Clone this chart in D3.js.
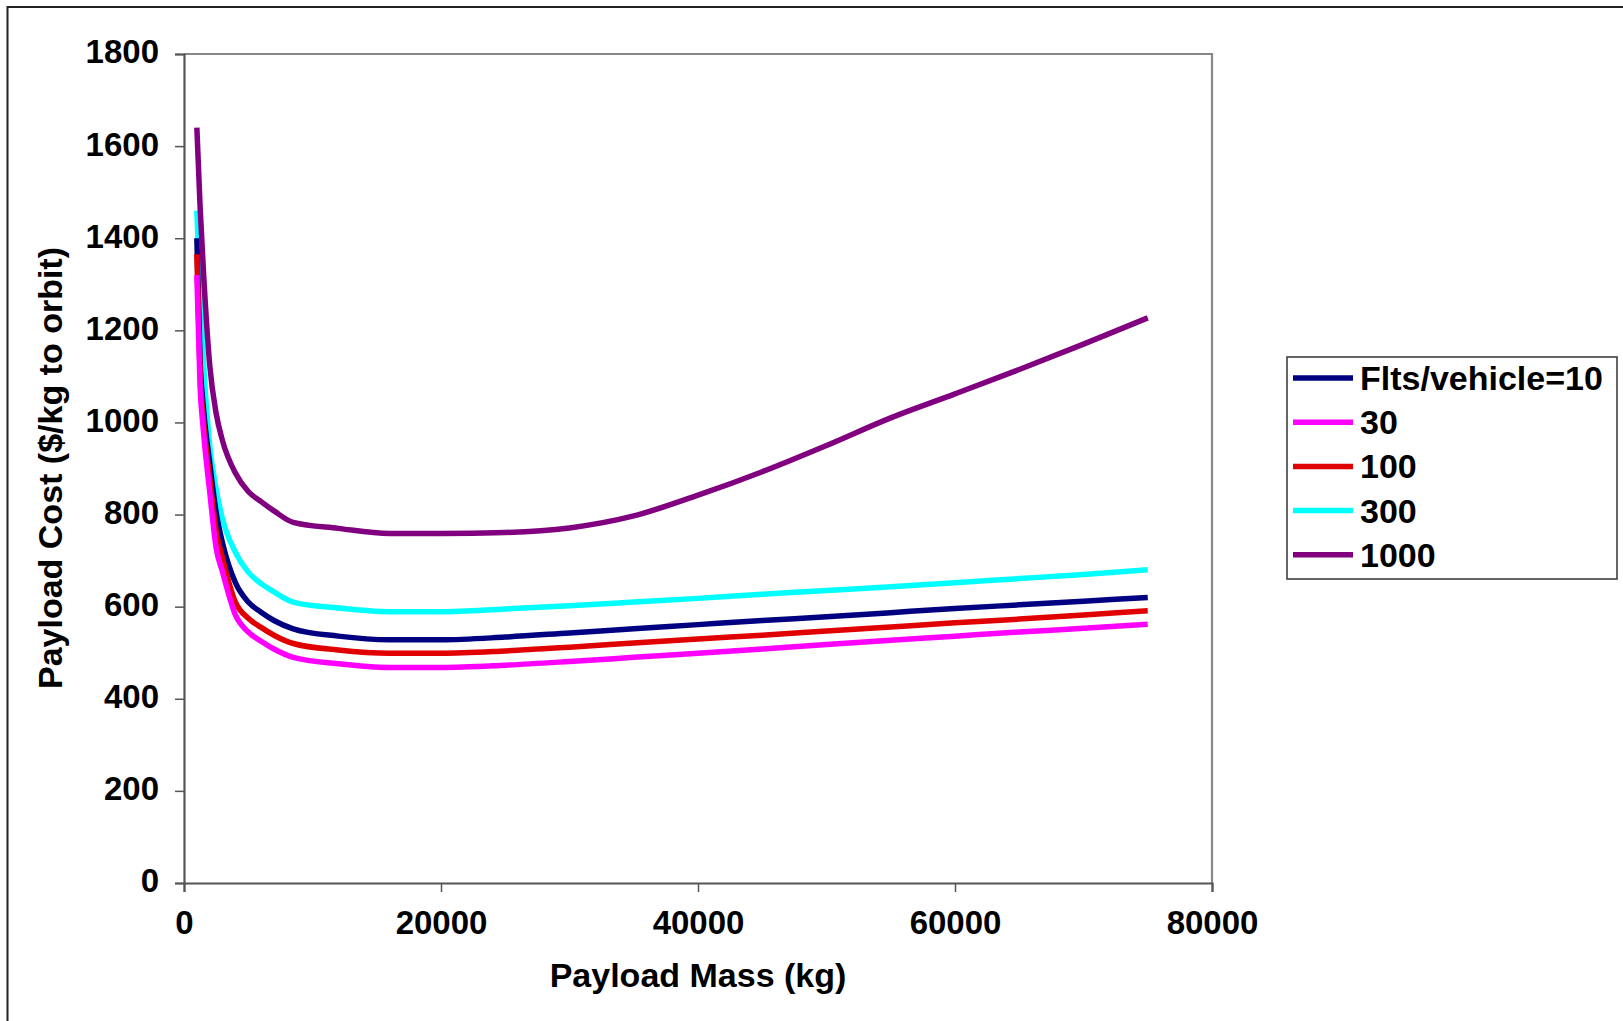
<!DOCTYPE html>
<html>
<head>
<meta charset="utf-8">
<script src="https://cdn.jsdelivr.net/npm/d3@7"></script>
<style>
  html, body { margin: 0; padding: 0; background: #fff; }
  svg { display: block; }
  text { font-family: "Liberation Sans", Arial, Helvetica, sans-serif; font-weight: bold; fill: #000; }
</style>
</head>
<body>
<script>
// ---------------- DATA ----------------
const payloadMass = [1000, 1250, 1500, 2000, 2500, 3000, 4000, 5000, 6000, 7000, 8500, 12000, 16000, 20000,
  25000, 30000, 35000, 40000, 45000, 50000, 55000, 60000, 65000, 70000, 75000];

const costFlts10   = [1400, 1135, 1035, 912, 805, 738, 652, 610, 588, 570, 552, 536, 528, 528,
  534, 543, 552, 561, 570, 578, 587, 596, 604, 612, 620];
const costFlts30   = [1320, 1080, 985, 850, 728, 675, 582, 545, 525, 508, 490, 476, 468, 468,
  473, 481, 490, 499, 508, 518, 527, 536, 545, 553, 562];
const costFlts100  = [1365, 1110, 1010, 880, 765, 705, 610, 575, 555, 538, 520, 506, 499, 499,
  504, 512, 521, 530, 538, 547, 556, 565, 573, 582, 591];
const costFlts300  = [1460, 1285, 1140, 950, 855, 790, 718, 675, 650, 632, 610, 597, 589, 589,
  595, 602, 610, 618, 627, 635, 643, 652, 661, 670, 680];
const costFlts1000 = [1640, 1470, 1335, 1125, 1020, 960, 890, 850, 828, 808, 783, 770, 759, 759,
  761, 771, 797, 842, 893, 950, 1010, 1062, 1115, 1170, 1227];

const seriesNames  = ["Flts/vehicle=10", "30", "100", "300", "1000"];
const seriesColors = ["#000080", "#FF00FF", "#E00000", "#00FFFF", "#800080"];

const xTicks = [0, 20000, 40000, 60000, 80000];
const yTicks = [0, 200, 400, 600, 800, 1000, 1200, 1400, 1600, 1800];

const xTitle = "Payload Mass (kg)";
const yTitle = "Payload Cost ($/kg to orbit)";

// ---------------- CHART ----------------
const W = 1623, H = 1021;
const plot = { left: 184, right: 1212, top: 54, bottom: 883 };

const svg = d3.select("body").append("svg").attr("width", W).attr("height", H);

// outer frame (only top/left visible)
svg.append("rect")
  .attr("x", 7.5).attr("y", 7)
  .attr("width", W + 20).attr("height", H + 20)
  .attr("fill", "#fff").attr("stroke", "#222").attr("stroke-width", 2);

const x = d3.scaleLinear().domain([0, 80000]).range([plot.left, plot.right]);
const y = d3.scaleLinear().domain([0, 1800]).range([plot.bottom, plot.top]);

// top & right frame of plot area
svg.append("path")
  .attr("d", `M${plot.left},${plot.top}H${plot.right}V${plot.bottom}`)
  .attr("fill", "none").attr("stroke", "#888").attr("stroke-width", 2.2);

// axes
const yAxis = svg.append("g").attr("transform", `translate(${plot.left},0)`)
  .call(d3.axisLeft(y).tickValues(yTicks).tickSize(9).tickPadding(16).tickFormat(d3.format("d")));
const xAxis = svg.append("g").attr("transform", `translate(0,${plot.bottom})`)
  .call(d3.axisBottom(x).tickValues(xTicks).tickSize(9).tickPadding(19).tickFormat(d3.format("d")));

[yAxis, xAxis].forEach(g => {
  g.select(".domain").attr("stroke", "#555").attr("stroke-width", 2.2);
  g.selectAll(".tick line").attr("stroke", "#555").attr("stroke-width", 1.5);
  g.selectAll(".tick text")
    .style("font-family", '"Liberation Sans", Arial, sans-serif')
    .style("font-weight", "bold").style("font-size", "33px").attr("fill", "#000");
});
yAxis.selectAll(".tick text").attr("dy", "0.27em");

// series lines
const series = [costFlts10, costFlts30, costFlts100, costFlts300, costFlts1000];
const line = d3.line()
  .x((d, i) => x(payloadMass[i]))
  .y(d => y(d))
  .curve(d3.curveMonotoneX);

// draw order: the lower ones first, purple last
const order = [3, 0, 2, 1, 4];
order.forEach(k => {
  svg.append("path")
    .datum(series[k])
    .attr("d", line)
    .attr("fill", "none")
    .attr("stroke", seriesColors[k])
    .attr("stroke-width", 5.5)
    .attr("stroke-linejoin", "round")
    .attr("stroke-linecap", "butt");
});

// axis titles
svg.append("text")
  .attr("x", (plot.left + plot.right) / 2)
  .attr("y", 987)
  .attr("text-anchor", "middle")
  .style("font-size", "34px")
  .text(xTitle);

svg.append("text")
  .attr("transform", `translate(62,${468}) rotate(-90)`)
  .attr("text-anchor", "middle")
  .style("font-size", "34px")
  .text(yTitle);

// legend
const legend = svg.append("g");
legend.append("rect")
  .attr("x", 1287).attr("y", 357).attr("width", 330).attr("height", 222)
  .attr("fill", "#fff").attr("stroke", "#333").attr("stroke-width", 1.5);

seriesNames.forEach((name, i) => {
  const base = 390 + i * 44.2;
  legend.append("line")
    .attr("x1", 1293).attr("x2", 1353)
    .attr("y1", base - 12).attr("y2", base - 12)
    .attr("stroke", seriesColors[i]).attr("stroke-width", 5.5);
  legend.append("text")
    .attr("x", 1360).attr("y", base)
    .style("font-size", "34px")
    .text(name);
});
</script>
</body>
</html>
